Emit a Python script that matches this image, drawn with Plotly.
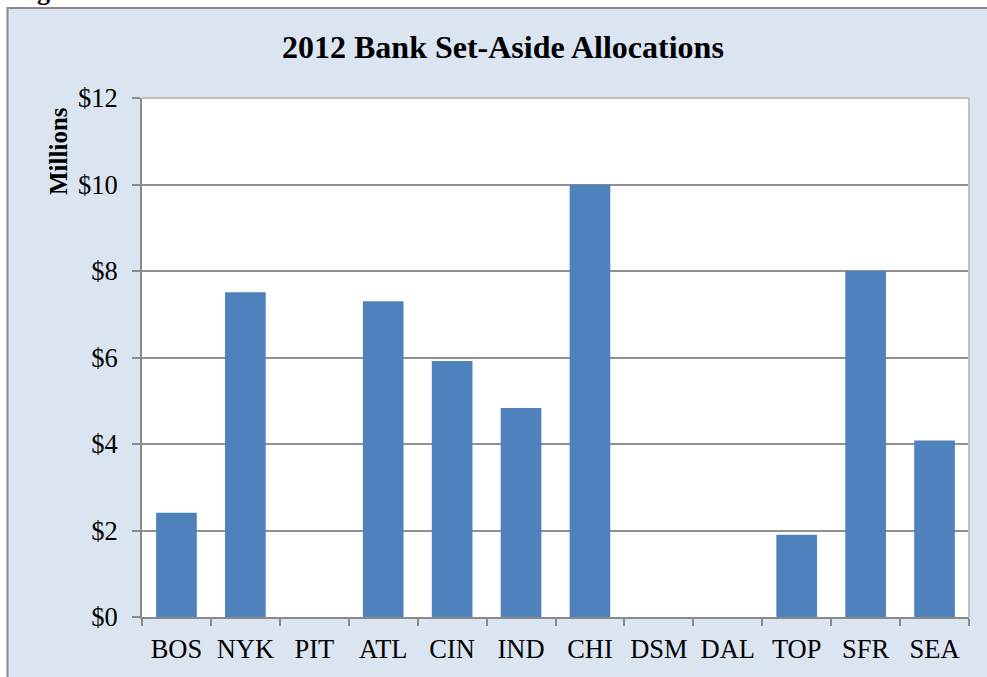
import plotly.graph_objects as go

# Set-aside allocations by district bank, in millions of dollars
banks = ["BOS", "NYK", "PIT", "ATL", "CIN", "IND", "CHI", "DSM", "DAL", "TOP", "SFR", "SEA"]
allocations = [2.41, 7.51, 0, 7.30, 5.92, 4.83, 10.0, 0, 0, 1.90, 8.0, 4.08]
y_ticks = [0, 2, 4, 6, 8, 10, 12]
y_tick_labels = ["$0", "$2", "$4", "$6", "$8", "$10", "$12"]

W, H = 987, 677
L, R, T, B = 142, 18, 98, 60
PW, PH = W - L - R, H - T - B

def px_x(p):
    return (p - L) / PW

def px_y(p):
    return 1 - (p - T) / PH

BG = "#dbe5f1"
BAR = "#4f81bd"
GRID = "#909090"
AXIS = "#8a8a8a"
SERIF = "Liberation Serif, Times New Roman, serif"
TICK_SIZE = 26.5

fig = go.Figure(
    go.Bar(
        x=banks,
        y=allocations,
        marker=dict(color=BAR, line=dict(width=0)),
        hoverinfo="skip",
    )
)

shapes = [
    # white strip above and left of the chart frame
    dict(type="rect", xref="paper", yref="paper", layer="below",
         x0=px_x(-10), x1=px_x(W + 10), y0=px_y(8), y1=px_y(-10),
         fillcolor="white", line=dict(width=0)),
    dict(type="rect", xref="paper", yref="paper", layer="below",
         x0=px_x(-10), x1=px_x(7), y0=px_y(H + 10), y1=px_y(-10),
         fillcolor="white", line=dict(width=0)),
    # chart frame (left and top edges)
    dict(type="line", xref="paper", yref="paper", layer="above",
         x0=px_x(7.5), x1=px_x(7.5), y0=px_y(8), y1=px_y(H + 10),
         line=dict(color=AXIS, width=2)),
    dict(type="line", xref="paper", yref="paper", layer="above",
         x0=px_x(6.5), x1=px_x(W + 10), y0=px_y(8), y1=px_y(8),
         line=dict(color=AXIS, width=2)),
    # plot-area border on top and right
    dict(type="line", xref="paper", yref="paper", layer="above",
         x0=0, x1=1, y0=1, y1=1, line=dict(color="#c0c0c0", width=2)),
    dict(type="line", xref="paper", yref="paper", layer="above",
         x0=1, x1=1, y0=0, y1=1, line=dict(color="#c0c0c0", width=2)),
]

annotations = [
    dict(text="<b>2012 Bank Set-Aside Allocations</b>", xref="paper", yref="paper",
         x=px_x(503), y=px_y(47), xanchor="center", yanchor="middle",
         showarrow=False, font=dict(family=SERIF, size=32, color="black")),
    dict(text="<b>Millions</b>", xref="paper", yref="paper",
         x=px_x(58), y=px_y(151), xanchor="center", yanchor="middle",
         textangle=-90, showarrow=False,
         font=dict(family=SERIF, size=25, color="black")),
    dict(text="<b>Figure 1.</b>", xref="paper", yref="paper",
         x=px_x(12), y=px_y(-8), xanchor="left", yanchor="middle",
         showarrow=False, font=dict(family=SERIF, size=26, color="black")),
]

fig.update_layout(
    width=W,
    height=H,
    margin=dict(l=L, r=R, t=T, b=B, pad=0, autoexpand=False),
    paper_bgcolor=BG,
    plot_bgcolor="white",
    showlegend=False,
    bargap=0.41,
    shapes=shapes,
    annotations=annotations,
    font=dict(family=SERIF, size=TICK_SIZE, color="black"),
)

fig.update_xaxes(
    type="category",
    automargin=False,
    tickangle=0,
    showgrid=False,
    showline=True,
    linecolor=AXIS,
    linewidth=2,
    ticks="outside",
    tickson="boundaries",
    ticklen=7,
    tickwidth=2,
    tickcolor=AXIS,
    ticklabelstandoff=7,
    tickfont=dict(family=SERIF, size=TICK_SIZE, color="black"),
)

fig.update_yaxes(
    range=[0, 12],
    automargin=False,
    tickvals=y_ticks,
    ticktext=y_tick_labels,
    showgrid=True,
    gridcolor=GRID,
    gridwidth=2,
    zeroline=False,
    showline=True,
    linecolor=AXIS,
    linewidth=2,
    ticks="outside",
    ticklen=8,
    tickwidth=2,
    tickcolor=AXIS,
    ticklabelstandoff=9,
    tickfont=dict(family=SERIF, size=TICK_SIZE, color="black"),
)

fig.write_html("out.html")
